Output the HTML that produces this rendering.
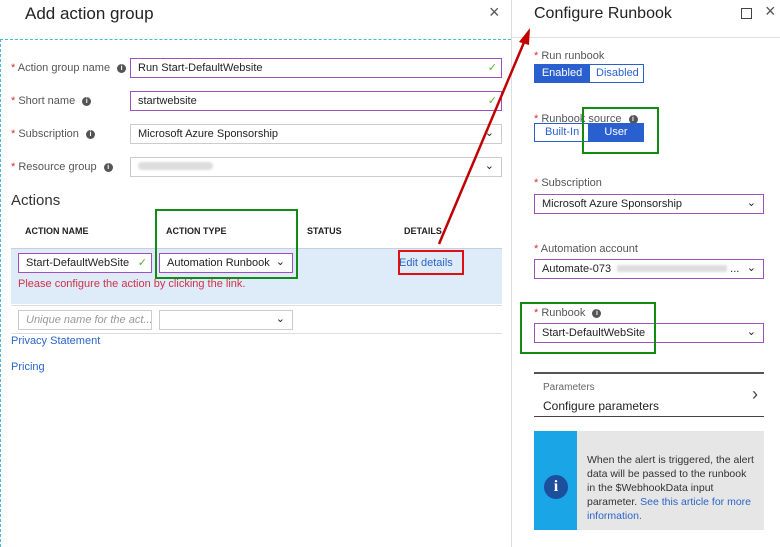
<!DOCTYPE html>
<html><head><meta charset="utf-8"><style>
body{margin:0;width:780px;height:547px;position:relative;overflow:hidden;background:#fff;font-family:"Liberation Sans",sans-serif;color:#333}
.a{position:absolute;white-space:nowrap}
.lbl{font-size:11px;color:#555}
.st{color:#d13438}
.inp{position:absolute;box-sizing:border-box;border:1px solid #a050c0;background:#fff;font-size:11px;color:#222;padding:3px 7px;height:20px;white-space:nowrap;overflow:hidden}
.gr{border-color:#ccc}
.chk{position:absolute;right:4px;top:2px;color:#5ab030;font-size:11px}
.dd{position:absolute;right:7px;top:1px;font-size:11px;color:#222}
.i{display:inline-block;width:9px;height:9px;border-radius:50%;background:#555;color:#fff;font-size:7px;text-align:center;line-height:9px;font-weight:bold;vertical-align:middle;margin-left:4px}
.hd{font-size:9px;font-weight:bold;color:#222}
.box{position:absolute;box-sizing:border-box}
.link{color:#2b64c8}
</style></head><body>
<div class="a" style="left:25px;top:4px;font-size:17px;color:#222">Add action group</div>
<div class="a" style="left:489px;top:2px;font-size:18px;color:#555">×</div>
<div class="box" style="left:0;top:39px;width:511px;height:508px;border-top:1px dashed #4ab8d8;border-left:1px dashed #4ab8d8"></div>
<div class="box" style="left:511px;top:0;width:1px;height:547px;background:#ddd"></div>

<div class="a lbl" style="left:11px;top:62px"><span class="st">*</span> Action group name <span class="i">i</span></div>
<div class="a lbl" style="left:11px;top:95px"><span class="st">*</span> Short name <span class="i">i</span></div>
<div class="a lbl" style="left:11px;top:128px"><span class="st">*</span> Subscription <span class="i">i</span></div>
<div class="a lbl" style="left:11px;top:161px"><span class="st">*</span> Resource group <span class="i">i</span></div>
<div class="inp" style="left:130px;top:58px;width:372px">Run Start-DefaultWebsite<span class="chk">✓</span></div>
<div class="inp" style="left:130px;top:91px;width:372px">startwebsite<span class="chk">✓</span></div>
<div class="inp gr" style="left:130px;top:124px;width:372px">Microsoft Azure Sponsorship<span class="dd">⌄</span></div>
<div class="inp gr" style="left:130px;top:157px;width:372px"><span style="display:inline-block;width:75px;height:8px;background:#ddd;border-radius:4px;filter:blur(1px)"></span><span class="dd">⌄</span></div>

<div class="a" style="left:11px;top:192px;font-size:15px;color:#333">Actions</div>
<div class="a hd" style="left:25px;top:226px">ACTION NAME</div>
<div class="a hd" style="left:166px;top:226px">ACTION TYPE</div>
<div class="a hd" style="left:307px;top:226px">STATUS</div>
<div class="a hd" style="left:404px;top:226px">DETAILS</div>
<div class="box" style="left:11px;top:248px;width:491px;height:56px;background:#deecf9;border-top:1px solid #ccd"></div>
<div class="inp" style="left:18px;top:253px;width:134px">Start-DefaultWebSite<span class="chk">✓</span></div>
<div class="inp" style="left:159px;top:253px;width:134px">Automation Runbook<span class="dd">⌄</span></div>
<div class="a link" style="left:399px;top:257px;font-size:11px">Edit details</div>
<div class="box" style="left:398px;top:250px;width:66px;height:25px;border:2px solid #e01010"></div>
<div class="a" style="left:18px;top:278px;font-size:11px;color:#d0304a">Please configure the action by clicking the link.</div>
<div class="box" style="left:11px;top:305px;width:491px;height:1px;background:#ddd"></div>
<div class="inp gr" style="left:18px;top:310px;width:134px;color:#999;font-style:italic">Unique name for the act...</div>
<div class="inp gr" style="left:159px;top:310px;width:134px"><span class="dd">⌄</span></div>
<div class="box" style="left:11px;top:333px;width:491px;height:1px;background:#ddd"></div>
<div class="a link" style="left:11px;top:335px;font-size:11px">Privacy Statement</div>
<div class="a link" style="left:11px;top:361px;font-size:11px">Pricing</div>
<div class="box" style="left:155px;top:209px;width:143px;height:70px;border:2px solid #138a13"></div>

<div class="a" style="left:534px;top:5px;font-size:16px;color:#222">Configure Runbook</div>
<div class="box" style="left:741px;top:8px;width:11px;height:11px;border:1px solid #444"></div>
<div class="a" style="left:765px;top:1px;font-size:18px;color:#555">×</div>
<div class="box" style="left:512px;top:37px;width:268px;height:1px;background:#ddd"></div>

<div class="a lbl" style="left:534px;top:50px"><span class="st">*</span> Run runbook</div>
<div class="box" style="left:534px;top:64px;width:110px;height:19px;border:1px solid #2a5fcf"></div>
<div class="box" style="left:534px;top:64px;width:56px;height:19px;background:#2a5fcf;color:#fff;font-size:11px;text-align:center;line-height:19px">Enabled</div>
<div class="a" style="left:596px;top:67px;font-size:11px;color:#2a5fcf">Disabled</div>

<div class="a lbl" style="left:534px;top:113px"><span class="st">*</span> Runbook source <span class="i">i</span></div>
<div class="box" style="left:534px;top:123px;width:110px;height:19px;border:1px solid #2a5fcf"></div>
<div class="a" style="left:545px;top:126px;font-size:11px;color:#2a5fcf">Built-In</div>
<div class="box" style="left:588px;top:123px;width:56px;height:19px;background:#2a5fcf;color:#fff;font-size:11px;text-align:center;line-height:19px">User</div>
<div class="box" style="left:582px;top:107px;width:77px;height:47px;border:2px solid #138a13"></div>

<div class="a lbl" style="left:534px;top:177px"><span class="st">*</span> Subscription</div>
<div class="inp" style="left:534px;top:194px;width:230px">Microsoft Azure Sponsorship<span class="dd">⌄</span></div>
<div class="a lbl" style="left:534px;top:243px"><span class="st">*</span> Automation account</div>
<div class="inp" style="left:534px;top:259px;width:230px">Automate-073<span style="display:inline-block;width:110px;height:7px;background:#ddd;margin-left:6px;filter:blur(1px)"></span> ...<span class="dd">⌄</span></div>
<div class="a lbl" style="left:534px;top:307px"><span class="st">*</span> Runbook <span class="i">i</span></div>
<div class="inp" style="left:534px;top:323px;width:230px">Start-DefaultWebSite<span class="dd">⌄</span></div>
<div class="box" style="left:520px;top:302px;width:136px;height:52px;border:2px solid #138a13"></div>

<div class="box" style="left:534px;top:372px;width:230px;height:2px;background:#555"></div>
<div class="a" style="left:543px;top:382px;font-size:10px;color:#666">Parameters</div>
<div class="a" style="left:543px;top:399px;font-size:12px;color:#222">Configure parameters</div>
<div class="a" style="left:752px;top:384px;font-size:18px;color:#444">›</div>
<div class="box" style="left:534px;top:416px;width:230px;height:1px;background:#444"></div>

<div class="box" style="left:534px;top:431px;width:230px;height:99px;background:#e6e6e6"></div>
<div class="box" style="left:534px;top:431px;width:43px;height:99px;background:#1aa6e6"></div>
<div class="box" style="left:544px;top:475px;width:24px;height:24px;border-radius:50%;background:#1c4f9c;color:#fff;font-weight:bold;font-size:16px;text-align:center;line-height:24px;font-family:'Liberation Serif',serif">i</div>
<div class="a" style="left:587px;top:453px;font-size:10.5px;line-height:14px;color:#333">When the alert is triggered, the alert<br>data will be passed to the runbook<br>in the $WebhookData input<br>parameter. <span class="link">See this article for more</span><br><span class="link">information.</span></div>

<svg class="a" style="left:0;top:0" width="780" height="547">
<line x1="439" y1="244" x2="525" y2="40" stroke="#c00000" stroke-width="2.5"/>
<polygon points="530,28 519,42 529,45" fill="#c00000"/>
</svg>
</body></html>
